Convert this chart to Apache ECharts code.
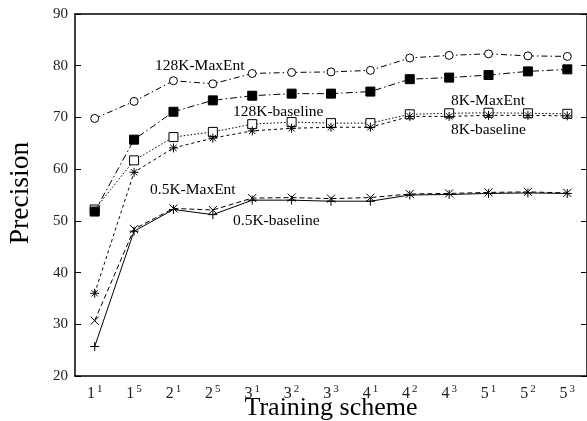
<!DOCTYPE html>
<html>
<head>
<meta charset="utf-8">
<script src="https://cdn.jsdelivr.net/npm/echarts@6/dist/echarts.min.js"></script>
<style>
  html, body { margin: 0; padding: 0; background: #fff; }
  #chart { width: 587px; height: 421px; }
</style>
</head>
<body>
<div id="chart"></div>
<script>
// training schemes, written as base^exponent
var schemes = ['1^1', '1^5', '2^1', '2^5', '3^1', '3^2', '3^3', '4^1', '4^2', '4^3', '5^1', '5^2', '5^3'];

var maxent128 = [69.8, 73.1, 77.1, 76.5, 78.5, 78.7, 78.8, 79.1, 81.5, 82.0, 82.3, 81.9, 81.8];
var baseline128 = [51.8, 65.7, 71.1, 73.3, 74.2, 74.6, 74.6, 75.0, 77.4, 77.7, 78.2, 78.9, 79.3];
var maxent8 = [52.2, 61.7, 66.2, 67.2, 68.7, 69.1, 68.9, 68.9, 70.6, 70.8, 70.9, 70.8, 70.7];
var baseline8 = [36.0, 59.4, 64.1, 66.0, 67.4, 67.9, 68.1, 68.1, 70.2, 70.2, 70.4, 70.4, 70.3];
var maxent05 = [30.7, 48.4, 52.4, 52.1, 54.4, 54.5, 54.3, 54.5, 55.2, 55.3, 55.5, 55.6, 55.4];
var baseline05 = [25.7, 48.0, 52.2, 51.2, 54.0, 54.0, 53.8, 53.8, 55.0, 55.1, 55.3, 55.4, 55.3];

var yTicks = [20, 30, 40, 50, 60, 70, 80, 90];

var serif = '"Liberation Serif", "DejaVu Serif", serif';

var plusSym = 'path://M0,5L10,5M5,0L5,10';
var crossSym = 'path://M0,0L10,10M10,0L0,10';
var starSym = 'path://M0,5L10,5M5,0L5,10M1.5,1.5L8.5,8.5M8.5,1.5L1.5,8.5';

function makeSeries(name, data, symbol, size, dash, fill, z) {
    return {
        name: name,
        type: 'line',
        data: data,
        symbol: symbol,
        symbolSize: size,
        showAllSymbol: true,
        lineStyle: { color: '#000', width: 1, type: dash },
        itemStyle: {
            color: fill,
            borderColor: '#000',
            borderWidth: 1
        },
        z: z
    };
}

var series = [
    makeSeries('128K-MaxEnt', maxent128, 'circle', 8, [6, 3, 1.5, 3], '#fff', 3),
    makeSeries('128K-baseline', baseline128, 'rect', 9, [7, 3, 1.5, 3], '#000', 5),
    makeSeries('8K-MaxEnt', maxent8, 'rect', 9, [1.5, 2], '#fff', 3),
    makeSeries('8K-baseline', baseline8, starSym, 9, [3, 3], '#000', 3),
    makeSeries('0.5K-MaxEnt', maxent05, crossSym, 8, [5, 3], '#000', 3),
    makeSeries('0.5K-baseline', baseline05, plusSym, 9, 'solid', '#000', 3)
];

function labelText(txt, x, y) {
    return {
        type: 'text',
        x: x,
        y: y,
        style: {
            text: txt,
            font: '15.5px ' + serif,
            fill: '#000',
            verticalAlign: 'middle'
        },
        z: 10
    };
}

var chart = echarts.init(document.getElementById('chart'));

var option = {
    animation: false,
    backgroundColor: '#fff',
    grid: { left: 75, top: 14, width: 513, height: 362, containLabel: false },
    xAxis: [{
        type: 'category',
        data: schemes,
        boundaryGap: true,
        position: 'bottom',
        axisLine: { lineStyle: { color: '#000', width: 1.5 } },
        axisTick: { inside: true, length: 6, alignWithLabel: true, lineStyle: { color: '#000' } },
        axisLabel: {
            margin: 8,
            interval: 0,
            formatter: function (v) {
                var p = v.split('^');
                return '{b|' + p[0] + '}{s|' + p[1] + '}';
            },
            rich: {
                b: { fontFamily: serif, fontSize: 16, color: '#222', lineHeight: 19 },
                s: { fontFamily: serif, fontSize: 11, color: '#222', verticalAlign: 'top', lineHeight: 11, padding: [0, 0, 0, 2] }
            }
        },
        splitLine: { show: false }
    }, {
        type: 'category',
        data: schemes,
        boundaryGap: true,
        position: 'top',
        axisLine: { lineStyle: { color: '#000', width: 1.5 } },
        axisTick: { inside: true, length: 6, alignWithLabel: true, lineStyle: { color: '#000' } },
        axisLabel: { show: false },
        splitLine: { show: false }
    }],
    yAxis: [{
        type: 'value',
        min: yTicks[0],
        max: yTicks[yTicks.length - 1],
        interval: 10,
        position: 'left',
        axisLine: { show: true, lineStyle: { color: '#000', width: 1.5 } },
        axisTick: { show: true, inside: true, length: 6, lineStyle: { color: '#000' } },
        axisLabel: { fontFamily: serif, fontSize: 15, color: '#222', margin: 7 },
        splitLine: { show: false }
    }, {
        type: 'value',
        min: yTicks[0],
        max: yTicks[yTicks.length - 1],
        interval: 10,
        position: 'right',
        axisLine: { show: true, lineStyle: { color: '#000', width: 1.5 } },
        axisTick: { show: true, inside: true, length: 6, lineStyle: { color: '#000' } },
        axisLabel: { show: false },
        splitLine: { show: false }
    }],
    graphic: [
        labelText('128K-MaxEnt', 155, 66),
        labelText('128K-baseline', 233, 112),
        labelText('8K-MaxEnt', 451, 101),
        labelText('8K-baseline', 451, 130),
        labelText('0.5K-MaxEnt', 150, 190),
        labelText('0.5K-baseline', 233, 221),
        {
            type: 'text',
            x: 331,
            y: 408,
            style: {
                text: 'Training scheme',
                font: '26px ' + serif,
                fill: '#000',
                align: 'center',
                verticalAlign: 'middle'
            }
        },
        {
            type: 'text',
            x: 21,
            y: 193,
            rotation: Math.PI / 2,
            style: {
                text: 'Precision',
                font: '27.5px ' + serif,
                fill: '#000',
                align: 'center',
                verticalAlign: 'middle'
            }
        }
    ],
    series: series
};

chart.setOption(option);

window.addEventListener('resize', function () {
    chart.resize();
});
</script>
</body>
</html>
